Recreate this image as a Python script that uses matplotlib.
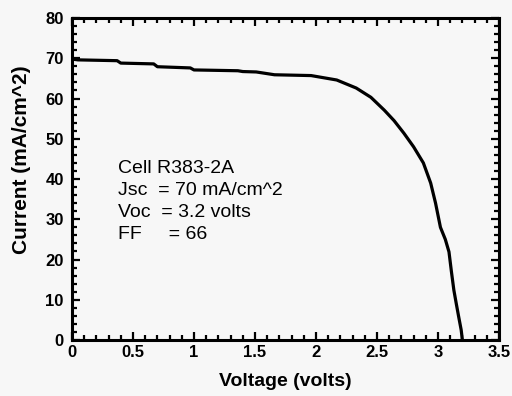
import numpy as np
import matplotlib
matplotlib.use("Agg")
import matplotlib.pyplot as plt
from matplotlib.ticker import MultipleLocator

# I-V curve
voltage = [0.0, 0.05, 0.37, 0.40, 0.67, 0.70, 0.97, 1.00, 1.36, 1.40, 1.51, 1.66, 1.96,
           2.17, 2.33, 2.45, 2.56, 2.64, 2.72, 2.80, 2.88, 2.94, 2.98, 3.02, 3.06, 3.09,
           3.11, 3.13, 3.15, 3.17, 3.19, 3.20]
current = [69.8, 69.6, 69.4, 68.8, 68.6, 67.9, 67.6, 67.1, 66.9, 66.7, 66.6, 65.9, 65.7,
           64.6, 62.6, 60.3, 57.1, 54.5, 51.4, 48.0, 44.0, 39.0, 34.0, 28.0, 25.0, 21.9,
           17.0, 12.4, 9.0, 5.7, 2.5, 0.0]

info_lines = ["Cell R383-2A", "Jsc  = 70 mA/cm^2", "Voc  = 3.2 volts", "FF     = 66"]

plt.rcParams['font.family'] = ['Liberation Sans', 'DejaVu Sans']

fig = plt.figure(figsize=(5.12, 3.96), dpi=100)
fig.patch.set_facecolor('#f7f7f7')
ax = fig.add_axes([0.1406, 0.1414, 0.834, 0.8131])
ax.set_facecolor('#f7f7f7')

ax.plot(voltage, current, color='black', lw=2.3, solid_joinstyle='round')

ax.set_xlim(0, 3.5)
ax.set_ylim(0, 80)
ax.xaxis.set_major_locator(MultipleLocator(0.5))
ax.xaxis.set_minor_locator(MultipleLocator(0.1))
ax.yaxis.set_major_locator(MultipleLocator(10))
ax.yaxis.set_minor_locator(MultipleLocator(2))
ax.set_xticks([0, 0.5, 1, 1.5, 2, 2.5, 3, 3.5])
ax.set_xticklabels(['0', '0.5', '1', '1.5', '2', '2.5', '3', '3.5'])

ax.tick_params(which='both', direction='in', top=True, right=True, width=1.6,
               labelsize=12)
ax.tick_params(axis='x', pad=3.5)
ax.tick_params(axis='y', pad=6)
ax.tick_params(which='major', length=6)
ax.tick_params(which='minor', length=3.5)
for lab in ax.get_xticklabels() + ax.get_yticklabels():
    lab.set_fontweight('bold')
for s in ax.spines.values():
    s.set_linewidth(2.2)

ax.set_xlabel('Voltage (volts)', fontsize=14, fontweight='bold', labelpad=9.5)
ax.set_ylabel('Current (mA/cm^2)', fontsize=15, fontweight='bold')
ax.yaxis.set_label_coords(-0.097, 0.56)

for i, line in enumerate(info_lines):
    ax.text(0.108, 0.519 - i * 0.068, line, transform=ax.transAxes, fontsize=14,
            va='baseline', ha='left')

fig.savefig('out.png', dpi=100, facecolor=fig.get_facecolor())
